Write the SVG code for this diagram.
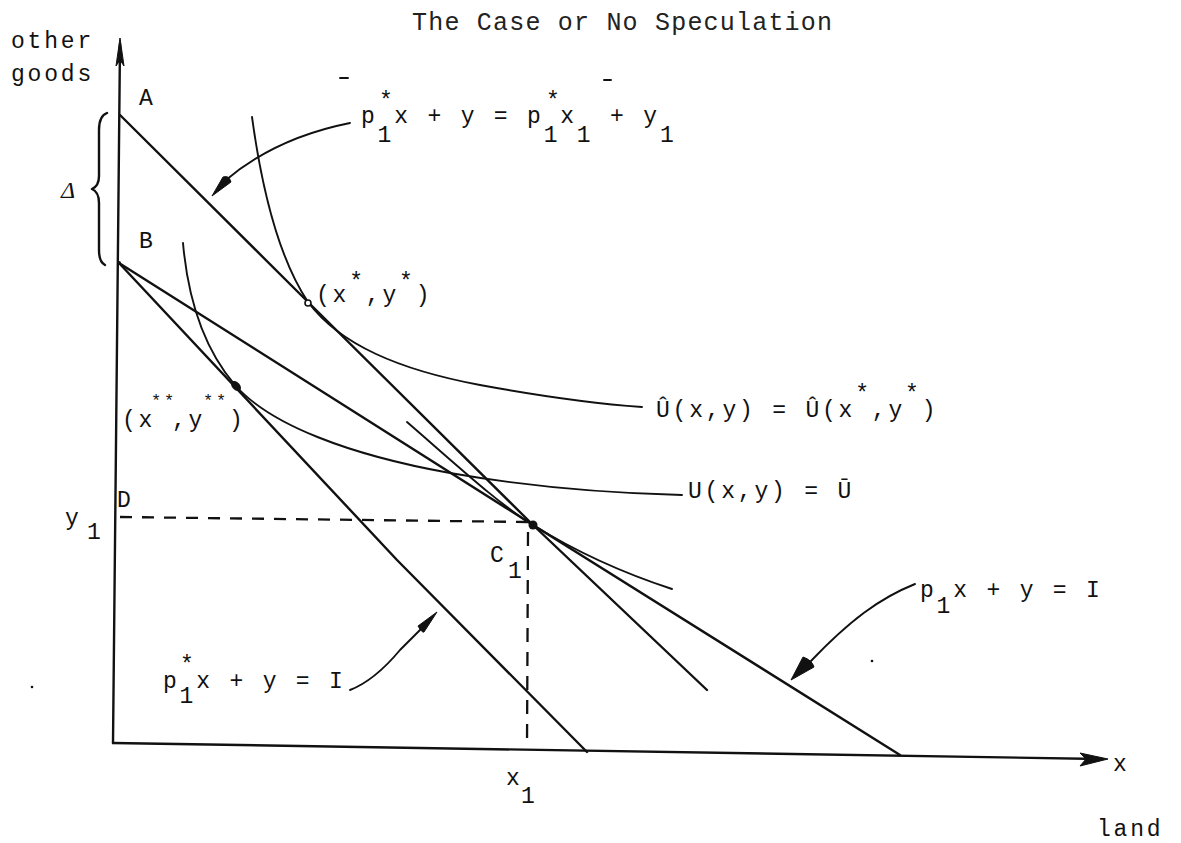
<svg xmlns="http://www.w3.org/2000/svg" width="1181" height="843" viewBox="0 0 1181 843">
<style>
.bg{fill:#fff}
.ln{fill:none;stroke:#111;stroke-width:2.4;stroke-linecap:round;stroke-linejoin:round}
.cv{fill:none;stroke:#111;stroke-width:1.9;stroke-linecap:round}
.ds{fill:none;stroke:#111;stroke-width:2.3;stroke-dasharray:12 10}
.ah{fill:#111;stroke:#111;stroke-width:1}
.m{font-family:"Liberation Mono","DejaVu Sans Mono",monospace;font-size:23px;letter-spacing:2.8px;fill:#111}
.s{font-family:"Liberation Mono","DejaVu Sans Mono",monospace;font-size:23px;fill:#111}
.st{font-family:"Liberation Mono","DejaVu Sans Mono",monospace;font-size:17px;fill:#111}
.ti{font-family:"Liberation Mono","DejaVu Sans Mono",monospace;font-size:25px;fill:#222}
</style>
<rect class="bg" x="0" y="0" width="1181" height="843"/>
<text class="ti" x="412" y="30" textLength="420" lengthAdjust="spacing">The Case or No Speculation</text>

<g id="axes">
<path class="ln" d="M113,743 L120,44"/>
<polygon class="ah" points="120,38 116,66 120,60 124,66"/>
<path class="ln" d="M113,743 L1100,759"/>
<polygon class="ah" points="1108,759 1080,753 1086,759 1080,766"/>
<text class="m" x="11" y="48">other</text>
<text class="m" x="11" y="81">goods</text>
<text class="m" x="1113" y="771">x</text>
<text class="m" x="1097" y="836">land</text>
</g>

<g id="brace">
<path class="ln" d="M107,113 Q99,116 99,130 L99,176 Q99,186 92,189 Q99,192 99,203 L99,250 Q99,262 105,265"/>
<text x="61" y="198" style="font-family:'Liberation Serif',serif;font-style:italic;font-size:24px;fill:#111">Δ</text>
</g>

<g id="points-labels">
<text class="s" x="139" y="105">A</text>
<text class="s" x="139" y="248">B</text>
<text class="s" x="117" y="507">D</text>
<text class="m" x="65" y="525">y</text>
<text class="m" x="87" y="539">1</text>
<text class="m" x="490" y="562">C</text>
<text class="m" x="508" y="578">1</text>
<text class="m" x="506" y="785">x</text>
<text class="m" x="521" y="803">1</text>
</g>

<g id="connectors">
<path class="ln" d="M120,115 L308,302 L533,525 L707,690"/>
<path class="ln" d="M119,263 L397,560 L587,752"/>
<path class="ln" d="M119,263 L533,525 L900,755"/>
<path class="cv" d="M252,117 C262,190 280,260 308,302 C340,345 400,370 480,385 C540,396 600,404 642,407"/>
<path class="cv" d="M183,243 C188,300 205,350 235,385 C270,425 350,455 450,473 C530,487 600,493 682,495"/>
<path class="cv" d="M407,422 C460,468 500,505 533,525 C570,548 620,572 672,589"/>
<path class="ds" d="M120,517 L528,522"/>
<path class="ds" d="M528,532 L527,748" style="stroke-dasharray:14 10"/>
<path class="cv" d="M350,123 C300,133 258,153 226,180"/>
<path class="ah" d="M212,196 L223,177 Q229,175 231,182 Z"/>
<path class="cv" d="M350,690 C368,683 385,668 400,650 L421,629"/>
<path class="ah" d="M437,612 L418,626 Q422,633 424,632 Z"/>
<path class="cv" d="M915,584 C880,598 850,620 810,662"/>
<path class="ah" d="M791,680 L803,657 Q812,660 814,667 Z"/>
</g>

<g id="dots">
<circle cx="308" cy="303" r="3" fill="#fff" stroke="#111" stroke-width="1.6"/>
<ellipse cx="236" cy="386" rx="6" ry="3.8" transform="rotate(45 236 386)" fill="#111"/>
<circle cx="533" cy="525" r="4.5" fill="#111"/>
<circle cx="119" cy="263" r="2" fill="#111"/>
</g>

<g id="label-top">
<text class="m" x="361" y="123">p<tspan dy="19">1</tspan><tspan dy="-19">x + y = p</tspan><tspan dy="19">1</tspan><tspan dy="-19">x</tspan><tspan dy="19">1</tspan><tspan dy="-19"> + y</tspan><tspan dy="19">1</tspan></text>
<text class="m" x="379" y="108">*</text>
<text class="m" x="546" y="108">*</text>
</g>

<g id="label-uhat">
<text class="m" x="656" y="417">Û(x,y) = Û(x<tspan dy="-16">*</tspan><tspan dy="16">,y</tspan><tspan dy="-16">*</tspan><tspan dy="16">)</tspan></text>
</g>

<g id="label-u">
<text class="m" x="688" y="498">U(x,y) = Ū</text>
</g>

<g id="label-xstar">
<text class="m" x="316" y="302">(x<tspan dy="-13">*</tspan><tspan dy="13">,y</tspan><tspan dy="-13">*</tspan><tspan dy="13">)</tspan></text>
</g>

<g id="label-xstarstar">
<text class="m" x="122" y="427">(x<tspan class="st" x="151" y="406">**</tspan><tspan x="172" y="427">,y</tspan><tspan class="st" x="203" y="406">**</tspan><tspan x="229" y="427">)</tspan></text>
</g>

<g id="label-low">
<text class="m" x="163" y="688">p<tspan dy="15">1</tspan><tspan dy="-15">x + y = I</tspan></text>
<text class="m" x="180" y="672">*</text>
</g>

<g id="label-right">
<text class="m" x="920" y="597">p<tspan dy="16">1</tspan><tspan dy="-16">x + y = I</tspan></text>
</g>

<g id="marks">
<path class="cv" d="M340,78 L348,78"/>
<path class="cv" d="M604,80 L611,80"/>
<circle cx="32" cy="687" r="1.3" fill="#111"/>
<circle cx="872" cy="661" r="1.3" fill="#111"/>
</g>
</svg>
